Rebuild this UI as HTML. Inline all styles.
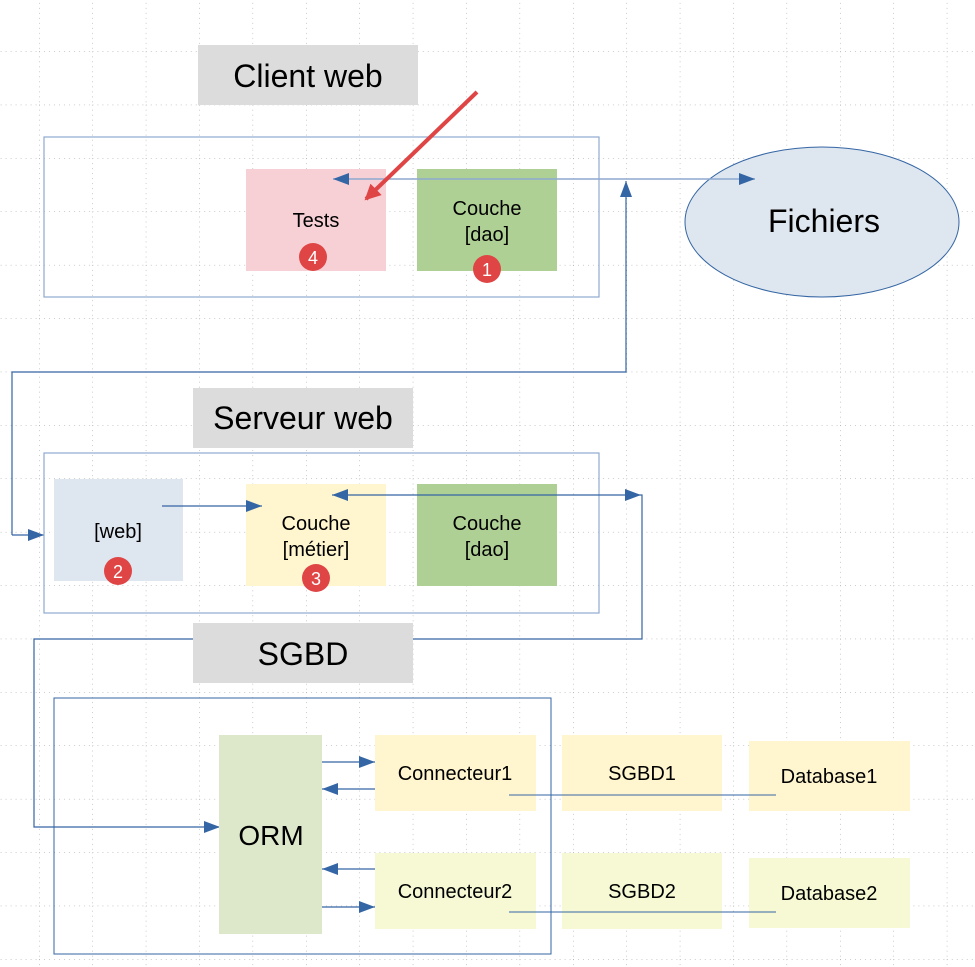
<!DOCTYPE html>
<html><head><meta charset="utf-8"><style>
html,body{margin:0;padding:0;background:#fff;}
svg{display:block;font-family:"Liberation Sans",Arial,sans-serif;}
</style></head><body>
<svg width="975" height="967" viewBox="0 0 975 967" xmlns="http://www.w3.org/2000/svg">
<defs>
<pattern id="g" x="39" y="51.3" width="53.4" height="53.4" patternUnits="userSpaceOnUse">
<line x1="0" y1="0" x2="53.4" y2="0" stroke="#999" stroke-width="1" stroke-dasharray="1,4"/>
<line x1="0" y1="0" x2="0" y2="53.4" stroke="#999" stroke-width="1" stroke-dasharray="1,4"/>
</pattern>
<marker id="a" markerWidth="16" markerHeight="12" refX="16" refY="6" orient="auto" markerUnits="userSpaceOnUse">
<path d="M0,0 L16,6 L0,12 z" fill="#3465a4"/></marker>
<marker id="r" markerWidth="16" markerHeight="16" refX="14" refY="8" orient="auto" markerUnits="userSpaceOnUse">
<path d="M0,0 L16,8 L0,16 z" fill="#e04545"/></marker>
</defs>
<rect width="975" height="967" fill="url(#g)"/>

<!-- Client web -->
<rect x="198" y="45" width="220" height="60" fill="#dcdcdc"/>
<text x="308" y="87" font-size="32" text-anchor="middle">Client web</text>
<rect x="44" y="137" width="555" height="160" fill="none" stroke="#8ea9d0" stroke-width="1.2"/>
<rect x="246" y="169" width="140" height="102" fill="#f6d0d5"/>
<text x="316" y="227" font-size="20" text-anchor="middle">Tests</text>
<circle cx="313" cy="257" r="14" fill="#e04545"/><text x="313" y="264" font-size="18" fill="#fff" text-anchor="middle">4</text>
<rect x="417" y="169" width="140" height="102" fill="#afd095"/>
<text x="487" y="215" font-size="20" text-anchor="middle">Couche</text>
<text x="487" y="241" font-size="20" text-anchor="middle">[dao]</text>
<circle cx="487" cy="269" r="14" fill="#e04545"/><text x="487" y="276" font-size="18" fill="#fff" text-anchor="middle">1</text>
<line x1="600" y1="179" x2="333" y2="179" stroke="#8ea9d0" stroke-width="1.5" marker-end="url(#a)"/>

<!-- Fichiers -->
<ellipse cx="822" cy="222" rx="137" ry="75" fill="#dee6ef" stroke="#3465a4" stroke-width="1"/>
<text x="824" y="232" font-size="32" text-anchor="middle">Fichiers</text>
<line x1="600" y1="179" x2="755" y2="179" stroke="#8ea9d0" stroke-width="1.5" marker-end="url(#a)"/>
<line x1="477" y1="92" x2="366" y2="199" stroke="#e04545" stroke-width="4" marker-end="url(#r)"/>

<!-- connector from Fichiers up -->
<polyline points="12,535 12,372 626,372 626,181" fill="none" stroke="#3465a4" stroke-width="1.2" marker-end="url(#a)"/>
<line x1="12" y1="535" x2="44" y2="535" stroke="#3465a4" stroke-width="1.2" marker-end="url(#a)"/>

<!-- Serveur web -->
<rect x="193" y="388" width="220" height="60" fill="#dcdcdc"/>
<text x="303" y="429" font-size="32" text-anchor="middle">Serveur web</text>
<rect x="44" y="453" width="555" height="160" fill="none" stroke="#8ea9d0" stroke-width="1.2"/>
<rect x="54" y="479" width="129" height="102" fill="#dee6ef"/>
<text x="118" y="538" font-size="20" text-anchor="middle">[web]</text>
<circle cx="118" cy="571" r="14" fill="#e04545"/><text x="118" y="578" font-size="18" fill="#fff" text-anchor="middle">2</text>
<rect x="246" y="484" width="140" height="102" fill="#fff5ce"/>
<text x="316" y="530" font-size="20" text-anchor="middle">Couche</text>
<text x="316" y="556" font-size="20" text-anchor="middle">[métier]</text>
<circle cx="316" cy="578" r="14" fill="#e04545"/><text x="316" y="585" font-size="18" fill="#fff" text-anchor="middle">3</text>
<rect x="417" y="484" width="140" height="102" fill="#afd095"/>
<text x="487" y="530" font-size="20" text-anchor="middle">Couche</text>
<text x="487" y="556" font-size="20" text-anchor="middle">[dao]</text>
<line x1="162" y1="506" x2="262" y2="506" stroke="#3465a4" stroke-width="1.2" marker-end="url(#a)"/>
<line x1="530" y1="495" x2="332" y2="495" stroke="#3465a4" stroke-width="1.2" marker-end="url(#a)"/>
<line x1="530" y1="495" x2="641" y2="495" stroke="#3465a4" stroke-width="1.2" marker-end="url(#a)"/>
<polyline points="641,495 642,495 642,639 34,639 34,827 220,827" fill="none" stroke="#3465a4" stroke-width="1.2" marker-end="url(#a)"/>

<!-- SGBD -->
<rect x="193" y="623" width="220" height="60" fill="#dcdcdc"/>
<text x="303" y="665" font-size="32" text-anchor="middle">SGBD</text>
<rect x="54" y="698" width="497" height="256" fill="none" stroke="#3465a4" stroke-width="1"/>
<rect x="219" y="735" width="103" height="199" fill="#dde8cb"/>
<text x="271" y="845" font-size="28" text-anchor="middle">ORM</text>
<rect x="375" y="735" width="161" height="76" fill="#fff5ce"/>
<text x="455" y="780" font-size="20" text-anchor="middle">Connecteur1</text>
<rect x="375" y="853" width="161" height="76" fill="#f6f9d4"/>
<text x="455" y="898" font-size="20" text-anchor="middle">Connecteur2</text>
<rect x="562" y="735" width="160" height="76" fill="#fff5ce"/>
<text x="642" y="780" font-size="20" text-anchor="middle">SGBD1</text>
<rect x="562" y="853" width="160" height="76" fill="#f6f9d4"/>
<text x="642" y="898" font-size="20" text-anchor="middle">SGBD2</text>
<rect x="749" y="741" width="161" height="70" fill="#fff5ce"/>
<text x="829" y="783" font-size="20" text-anchor="middle">Database1</text>
<rect x="749" y="858" width="161" height="70" fill="#f6f9d4"/>
<text x="829" y="900" font-size="20" text-anchor="middle">Database2</text>
<line x1="322" y1="762" x2="375" y2="762" stroke="#3465a4" stroke-width="1.2" marker-end="url(#a)"/>
<line x1="375" y1="789" x2="322" y2="789" stroke="#3465a4" stroke-width="1.2" marker-end="url(#a)"/>
<line x1="375" y1="869" x2="322" y2="869" stroke="#3465a4" stroke-width="1.2" marker-end="url(#a)"/>
<line x1="322" y1="907" x2="375" y2="907" stroke="#3465a4" stroke-width="1.2" marker-end="url(#a)"/>
<line x1="509" y1="795" x2="776" y2="795" stroke="#3465a4" stroke-width="1"/>
<line x1="509" y1="912" x2="776" y2="912" stroke="#3465a4" stroke-width="1"/>
</svg>
</body></html>
